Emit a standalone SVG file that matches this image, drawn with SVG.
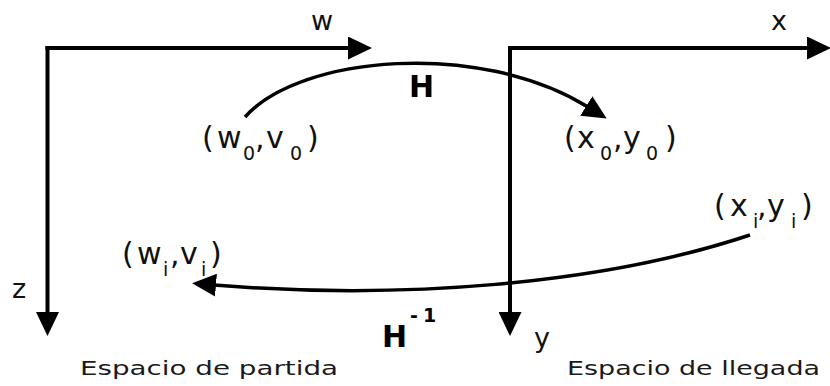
<svg xmlns="http://www.w3.org/2000/svg" width="830" height="386" viewBox="0 0 830 386">
<style>
.t { font-family: "DejaVu Sans", Verdana, sans-serif; font-size: 30px; fill: #111; }
.ax { font-size: 27px; }
.s { font-size: 19px; }
.b { font-weight: bold; font-size: 30px; fill: #000; }
.cap { font-family: "DejaVu Sans", Verdana, sans-serif; font-size: 20px; fill: #1a1a1a; }
.axis { stroke: #000; stroke-width: 4; fill: none; marker-end: url(#ah); }
.conn { stroke: #000; stroke-width: 3.5; fill: none; marker-end: url(#ah); }
</style>
<defs>
<marker id="ah" markerUnits="userSpaceOnUse" markerWidth="24" markerHeight="23" viewBox="0 0 24 23" refX="2" refY="11.5" orient="auto">
<path d="M0,0 L24,11.5 L0,23 z" fill="#000"/>
</marker>
</defs>
<rect width="830" height="386" fill="#fff"/>
<g id="axes-partida">
<path class="axis" d="M45.5,48 H350"/>
<path class="axis" d="M47.5,46 V314"/>
<text class="t ax" x="311" y="30">w</text>
<text class="t ax" x="12" y="298">z</text>
<text class="cap" x="80" y="375" textLength="258" lengthAdjust="spacingAndGlyphs">Espacio de partida</text>
</g>
<g id="axes-llegada">
<path class="axis" d="M508,48 H809"/>
<path class="axis" d="M510,46 V314"/>
<text class="t ax" x="771" y="30">x</text>
<text class="t ax" x="534" y="347">y</text>
<text class="cap" x="567" y="375" textLength="253" lengthAdjust="spacingAndGlyphs">Espacio de llegada</text>
</g>
<g id="connectors">
<path class="conn" d="M245,117 C300,55 480,40 588,107"/>
<path class="conn" d="M750,235 C600,285 400,300 214,285"/>
</g>
<g id="label-H">
<text class="t b" x="409" y="97">H</text>
</g>
<g id="label-Hinv">
<text class="t b" x="382" y="347">H</text>
<text class="t b" style="font-size:19px" y="322"><tspan x="410">-</tspan><tspan x="423">1</tspan></text>
</g>
<g id="node-w0v0">
<text class="t"><tspan x="202" y="148">(</tspan><tspan x="217" y="148">w</tspan><tspan class="s" x="243" y="160">0</tspan><tspan x="255" y="148">,</tspan><tspan x="266" y="148">v</tspan><tspan class="s" x="290" y="160">0</tspan><tspan x="307" y="148">)</tspan></text>
</g>
<g id="node-x0y0">
<text class="t"><tspan x="564" y="148">(</tspan><tspan x="577" y="148">x</tspan><tspan class="s" x="600" y="160">0</tspan><tspan x="613" y="148">,</tspan><tspan x="623" y="148">y</tspan><tspan class="s" x="646" y="160">0</tspan><tspan x="665" y="148">)</tspan></text>
</g>
<g id="node-xiyi">
<text class="t"><tspan x="714" y="216">(</tspan><tspan x="730" y="216">x</tspan><tspan class="s" x="753" y="228">i</tspan><tspan x="757" y="216">,</tspan><tspan x="767" y="216">y</tspan><tspan class="s" x="791" y="228">i</tspan><tspan x="801" y="216">)</tspan></text>
</g>
<g id="node-wivi">
<text class="t"><tspan x="122" y="264">(</tspan><tspan x="137" y="264">w</tspan><tspan class="s" x="163" y="276">i</tspan><tspan x="170" y="264">,</tspan><tspan x="180" y="264">v</tspan><tspan class="s" x="201" y="276">i</tspan><tspan x="210" y="264">)</tspan></text>
</g>
</svg>
